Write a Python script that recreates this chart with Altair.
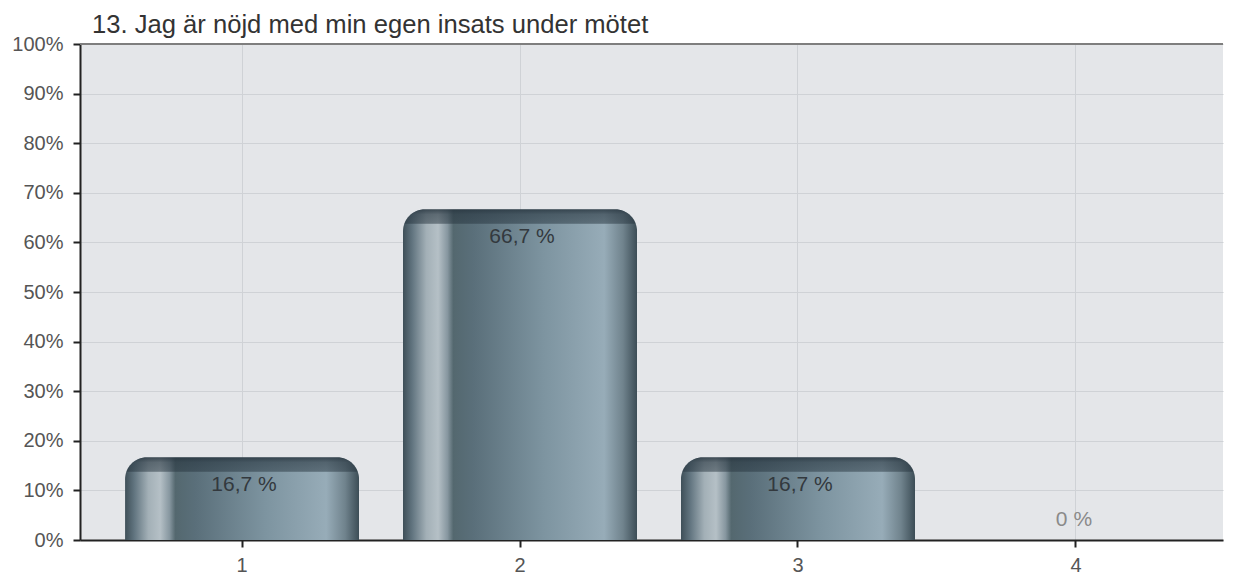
import altair as alt
import pandas as pd

categories = ["1", "2", "3", "4"]
values = [16.7, 66.7, 16.7, 0.0]
labels = ["16,7 %", "66,7 %", "16,7 %", "0 %"]
title_text = "13. Jag är nöjd med min egen insats under mötet"
y_ticks = list(range(0, 101, 10))

df = pd.DataFrame({"cat": categories, "val": values, "lab": labels})

FONT = "Liberation Sans"

x_enc = alt.X(
    "cat:N",
    sort=categories,
    scale=alt.Scale(paddingInner=0.158, paddingOuter=0.135, align=0.6),
    axis=alt.Axis(
        title=None, labelAngle=0, labelFontSize=20, labelColor="#555555", labelFont=FONT,
        tickColor="#222222", tickSize=7, tickWidth=2, labelPadding=8,
        domainColor="#222222", domainWidth=2, grid=True, gridColor="#cfd2d6", gridWidth=1,
        bandPosition=0.5,
    ),
)
y_scale = alt.Scale(domain=[0, 100], nice=False)
y_enc = alt.Y(
    "val:Q",
    scale=y_scale,
    axis=alt.Axis(
        title=None, values=y_ticks, labelExpr="datum.value + '%'", labelFontSize=20,
        labelColor="#555555", labelFont=FONT, tickColor="#222222", tickSize=7, tickWidth=2,
        labelPadding=10, domainColor="#222222", domainWidth=2, grid=True,
        gridColor="#cfd2d6", gridWidth=1,
    ),
)

body_grad = alt.Gradient(
    gradient="linear", x1=0, x2=1, y1=0, y2=0,
    stops=[
        alt.GradientStop(offset=0.0, color="#3e4f58"),
        alt.GradientStop(offset=0.04, color="#627580"),
        alt.GradientStop(offset=0.10, color="#a3b0b7"),
        alt.GradientStop(offset=0.15, color="#b5c0c6"),
        alt.GradientStop(offset=0.19, color="#8797a0"),
        alt.GradientStop(offset=0.215, color="#54686f"),
        alt.GradientStop(offset=0.30, color="#5a6f7a"),
        alt.GradientStop(offset=0.60, color="#7d94a0"),
        alt.GradientStop(offset=0.86, color="#97acb8"),
        alt.GradientStop(offset=0.94, color="#70838d"),
        alt.GradientStop(offset=1.0, color="#3c4d56"),
    ],
)
cap_grad = alt.Gradient(
    gradient="linear", x1=0, x2=0, y1=0, y2=1,
    stops=[
        alt.GradientStop(offset=0.0, color="rgba(38,52,62,0.85)"),
        alt.GradientStop(offset=0.12, color="rgba(38,52,62,0.6)"),
        alt.GradientStop(offset=0.32, color="rgba(38,52,62,0.5)"),
        alt.GradientStop(offset=0.345, color="rgba(38,52,62,0.0)"),
        alt.GradientStop(offset=1.0, color="rgba(38,52,62,0.0)"),
    ],
)

base = alt.Chart(df)

bars = base.mark_bar(
    color=body_grad, cornerRadiusTopLeft=22, cornerRadiusTopRight=22
).encode(x=x_enc, y=y_enc)

caps = base.transform_filter("datum.val > 0").mark_bar(
    color=cap_grad, cornerRadiusTopLeft=22, cornerRadiusTopRight=22, y2Offset=44
).encode(x=x_enc, y=y_enc, y2="val:Q")

labels_in = base.transform_filter("datum.val > 0").mark_text(
    font=FONT, fontSize=21, color="#33393e", baseline="middle", dy=28, dx=2
).encode(x=x_enc, y=y_enc, text="lab:N")

labels_zero = base.transform_filter("datum.val == 0").mark_text(
    font=FONT, fontSize=21, color="#8a8a8a", baseline="middle", dy=-20, dx=-2
).encode(x=x_enc, y=y_enc, text="lab:N")

top_line = base.mark_rule(color="#7e7e7e", strokeWidth=2).encode(
    y=alt.datum(100, scale=y_scale)
)

chart = alt.layer(bars, caps, labels_in, labels_zero, top_line).properties(
    width=1143,
    height=496,
    background="white",
    title=alt.TitleParams(
        text=title_text, anchor="start", frame="group", dx=12, offset=0, dy=5,
        fontSize=25.6, font=FONT, fontWeight="normal", color="#333333",
    ),
    autosize=alt.AutoSizeParams(type="none"),
    padding={"left": 72, "top": 36, "right": 2, "bottom": 36},
).configure_view(
    fill="#e4e6e9", stroke=None
)

chart.save("out.html", embed_options={"renderer": "svg", "actions": False})
